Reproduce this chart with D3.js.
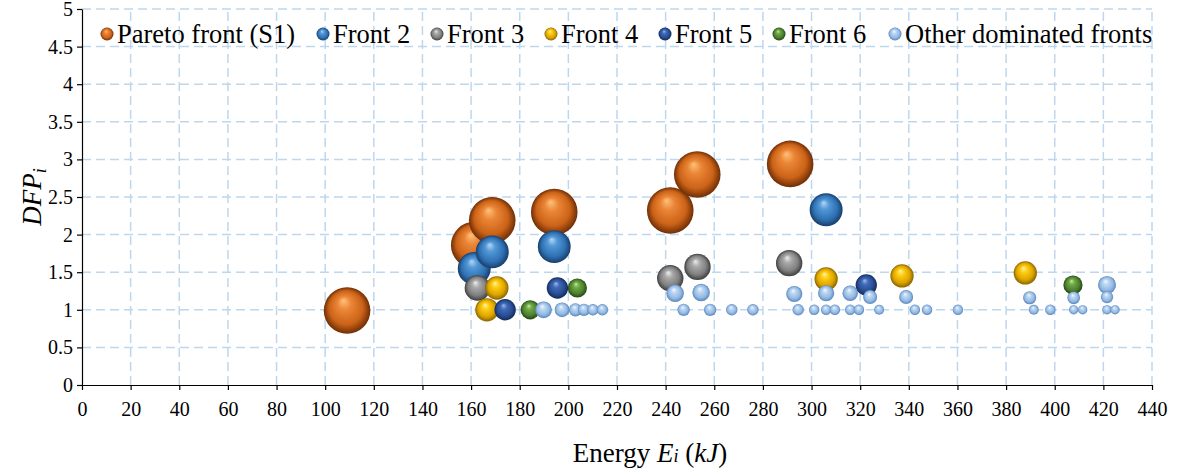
<!DOCTYPE html>
<html>
<head>
<meta charset="utf-8">
<script src="https://cdn.jsdelivr.net/npm/d3@7"></script>
<style>
  html, body { margin: 0; padding: 0; background: #ffffff; }
  svg { display: block; }
  svg text { font-family: "Liberation Serif", "Times New Roman", serif; }
</style>
</head>
<body>
<svg id="chart" width="1179" height="472"></svg>
<script>
// ---------- DATA ----------
const xTicks = [0,20,40,60,80,100,120,140,160,180,200,220,240,260,280,300,320,340,360,380,400,420,440];
const yTicks = [0,0.5,1,1.5,2,2.5,3,3.5,4,4.5,5];

const seriesNames = ["Pareto front (S1)", "Front 2", "Front 3", "Front 4", "Front 5", "Front 6", "Other dominated fronts"];

const paretoX    = [109, 161.3, 168.7, 194.2, 241.9, 253.0, 291.2];
const paretoY    = [0.99, 1.86, 2.19, 2.30, 2.32, 2.80, 2.94];
const paretoSize = [100, 100, 100, 100, 100, 100, 100];

const front2X    = [161.3, 168.7, 194.2, 306.0];
const front2Y    = [1.55, 1.77, 1.84, 2.33];
const front2Size = [50, 50, 50, 50];

const front3X    = [162.6, 241.9, 253.1, 290.8];
const front3Y    = [1.29, 1.42, 1.57, 1.62];
const front3Size = [30, 32, 32, 32];

const front4X    = [166.5, 170.6, 306.0, 337.2, 387.9];
const front4Y    = [1.00, 1.29, 1.41, 1.45, 1.49];
const front4Size = [25, 25, 25, 25, 25];

const front5X    = [174.0, 195.5, 322.5];
const front5Y    = [1.00, 1.29, 1.33];
const front5Size = [21, 21, 21];

const front6X    = [184.3, 203.7, 407.5];
const front6Y    = [1.00, 1.29, 1.33];
const front6Size = [17, 17, 17];

const otherX = [189.8, 197.4, 202.9, 206.4, 210.1, 214.0,
                243.9, 254.6, 247.4, 258.3, 267.2, 275.9,
                292.9, 294.5, 301.1, 306.0, 306.0, 309.6,
                315.9, 315.9, 319.5, 324.1, 327.8, 338.9,
                342.5, 347.5, 360.2, 389.7, 391.4, 398.2,
                407.8, 407.8, 411.5, 421.5, 421.5, 421.5, 424.8];
const otherY = [1.00, 1.00, 1.00, 1.00, 1.00, 1.00,
                1.22, 1.23, 1.00, 1.00, 1.00, 1.00,
                1.21, 1.00, 1.00, 1.22, 1.00, 1.00,
                1.22, 1.00, 1.00, 1.17, 1.00, 1.17,
                1.00, 1.00, 1.00, 1.16, 1.00, 1.00,
                1.16, 1.00, 1.00, 1.33, 1.17, 1.00, 1.00];
const otherSize = [13, 10, 8, 7, 6, 6,
                   14, 14, 7, 7, 6, 6,
                   12, 6, 5, 12, 5, 5,
                   11, 5, 5, 9, 4.5, 9,
                   5, 5, 5, 8, 4.5, 5,
                   7.5, 4, 4, 15, 7, 4, 4];

// colour stops per series: highlight, light, base, edge
const palettes = [
  ["#ffc27a", "#ea8536", "#cc6318", "#6e2e06"],
  ["#b4d6f4", "#5297d6", "#2f72b4", "#183e6a"],
  ["#eeeeee", "#a9a9a9", "#7f7f7f", "#3e3e3e"],
  ["#fff4b0", "#ffcc10", "#dca400", "#8a6500"],
  ["#9fb8ea", "#3f69b8", "#284c92", "#142a58"],
  ["#c4e8a8", "#6fa845", "#4c7f2c", "#254414"],
  ["#f4f9ff", "#bcd7f2", "#93b9e2", "#5a86be"]
];

// ---------- LAYOUT ----------
const svg = d3.select("#chart");
const FONT = "'Liberation Serif', 'Times New Roman', serif";
const margin = { left: 82, right: 1152, top: 9, bottom: 385 };

const x = d3.scaleLinear().domain([0, 440]).range([margin.left, margin.right]);
const y = d3.scaleLinear().domain([0, 5]).range([margin.bottom, margin.top]);
const r = d3.scaleSqrt().domain([0, 100]).range([0, 23.3]);

// gradients
const defs = svg.append("defs");
palettes.forEach((p, i) => {
  const g = defs.append("radialGradient")
    .attr("id", "sph" + i)
    .attr("cx", "50%").attr("cy", "50%").attr("r", "50%")
    .attr("fx", "42%").attr("fy", "28%");
  g.append("stop").attr("offset", "0%").attr("stop-color", p[0]);
  g.append("stop").attr("offset", "30%").attr("stop-color", p[1]);
  g.append("stop").attr("offset", "72%").attr("stop-color", p[2]);
  g.append("stop").attr("offset", "100%").attr("stop-color", p[3]);
});

// grid
const grid = svg.append("g");
const gridColor = "#bdd7ee";
grid.selectAll(".hg").data(yTicks.filter(d => d > 0)).enter().append("line")
  .attr("x1", x(0)).attr("x2", x(440))
  .attr("y1", d => y(d)).attr("y2", d => y(d))
  .attr("stroke", gridColor).attr("stroke-width", 1.5).attr("stroke-dasharray", "9,5");
grid.selectAll(".vg").data(xTicks.filter(d => d > 0)).enter().append("line")
  .attr("x1", d => x(d)).attr("x2", d => x(d))
  .attr("y1", y(0)).attr("y2", y(5))
  .attr("stroke", gridColor).attr("stroke-width", 1.5).attr("stroke-dasharray", "9,5");

// axes
const xAxis = d3.axisBottom(x).tickValues(xTicks).tickSize(5).tickSizeOuter(0).tickFormat(d => String(d));
const yAxis = d3.axisLeft(y).tickValues(yTicks).tickSize(5).tickSizeOuter(0).tickFormat(d => String(d));

const gx = svg.append("g").attr("transform", `translate(0,${y(0)})`).call(xAxis);
const gy = svg.append("g").attr("transform", `translate(${x(0)},0)`).call(yAxis);
[gx, gy].forEach(g => {
  g.attr("font-family", FONT).attr("font-size", 20);
  g.select(".domain").attr("stroke", "#000").attr("stroke-width", 1.2);
  g.selectAll(".tick line").attr("stroke", "#000").attr("stroke-width", 1.2);
  g.selectAll(".tick text").attr("fill", "#000")
    .style("font-family", FONT)
    .style("font-size", "20px");
});
gx.selectAll(".tick text").attr("dy", "0.71em").attr("y", 17);
gy.selectAll(".tick text").attr("x", -9);

// bubbles
const seriesData = [
  [paretoX, paretoY, paretoSize],
  [front2X, front2Y, front2Size],
  [front3X, front3Y, front3Size],
  [front4X, front4Y, front4Size],
  [front5X, front5Y, front5Size],
  [front6X, front6Y, front6Size],
  [otherX, otherY, otherSize]
];
const plot = svg.append("g");
seriesData.forEach((s, i) => {
  const pts = s[0].map((v, k) => ({ x: v, y: s[1][k], s: s[2][k] }));
  plot.append("g").selectAll("circle").data(pts).enter().append("circle")
    .attr("cx", d => x(d.x)).attr("cy", d => y(d.y)).attr("r", d => r(d.s))
    .attr("fill", `url(#sph${i})`);
});

// legend
const legendMarkers = [107, 323, 437, 551, 665, 779, 895];
const lg = svg.append("g");
seriesNames.forEach((name, i) => {
  const g = lg.append("g").attr("transform", `translate(${legendMarkers[i]},34)`);
  g.append("circle").attr("r", 6.5).attr("fill", `url(#sph${i})`);
  g.append("text").attr("x", 10).attr("y", 9).text(name)
    .style("font-family", FONT)
    .style("font-size", "26.5px").attr("fill", "#000");
});

// axis titles
const yt = svg.append("text")
  .attr("transform", `translate(41,197) rotate(-90)`)
  .attr("text-anchor", "middle")
  .style("font-family", FONT)
  .style("font-size", "27px").attr("fill", "#000");
yt.append("tspan").style("font-style", "italic").text("DFP");
yt.append("tspan").style("font-style", "italic").style("font-size", "18px").attr("dy", 5).text("i");

const xt = svg.append("text")
  .attr("x", 650).attr("y", 462)
  .attr("text-anchor", "middle")
  .style("font-family", FONT)
  .style("font-size", "27px").attr("fill", "#000");
xt.append("tspan").text("Energy ");
xt.append("tspan").style("font-style", "italic").text("E");
xt.append("tspan").style("font-style", "italic").style("font-size", "18px").text("i");
xt.append("tspan").text(" (");
xt.append("tspan").style("font-style", "italic").text("kJ");
xt.append("tspan").text(")");
</script>
</body>
</html>
